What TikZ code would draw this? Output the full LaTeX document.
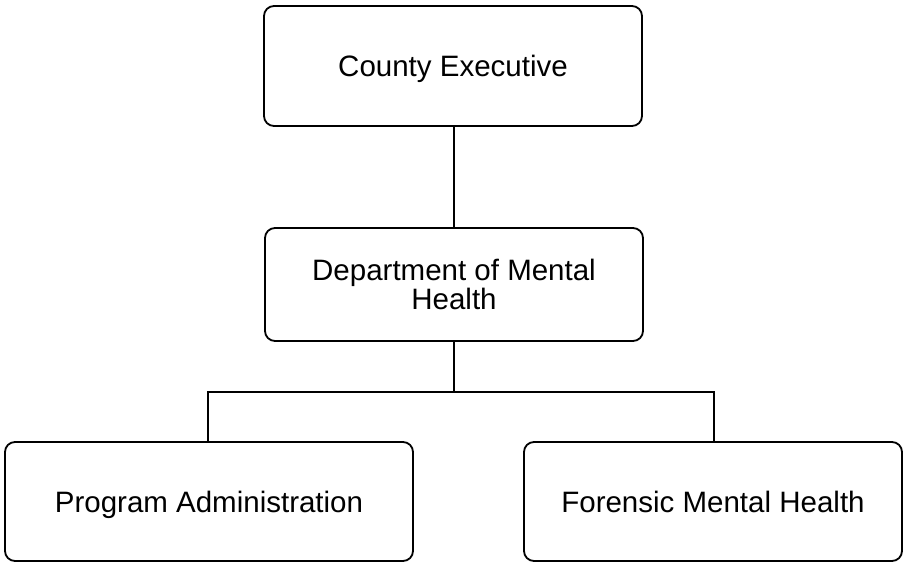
\documentclass[tikz,border=0pt]{standalone}
\usepackage{fontspec}
\setmainfont{Liberation Sans}
\begin{document}
\begin{tikzpicture}[x=1pt,y=-1pt,
  orgbox/.style={draw=black, line width=1.8pt, rounded corners=10pt,
    fill=white, inner sep=0pt, align=center,
    font=\fontsize{29.5}{29}\selectfont},
  oneline/.style={text height=21pt, text depth=0pt},
  link/.style={draw=black, line width=1.8pt}]
  % page frame
  \useasboundingbox (0,0) rectangle (904,565);
  % boxes
  \node[orgbox, oneline, minimum width=378pt, minimum height=120pt] (ce) at (453,66) {County Executive};
  \node[orgbox, minimum width=378pt, minimum height=113pt] (dmh) at (454,284.5) {Department of Mental\\Health};
  \node[orgbox, oneline, minimum width=408pt, minimum height=119pt] (pa) at (209,501.5) {Program Administration};
  \node[orgbox, oneline, minimum width=378pt, minimum height=119pt] (fmh) at (713,501.5) {Forensic Mental Health};
  % connectors
  \coordinate (bus) at (454,392);
  \draw[link] (dmh.north) -- (dmh.north |- ce.south);
  \draw[link] (dmh.south) -- (bus);
  \draw[link] (pa.north -| 208,0) -- (208,392) -- (714,392) -- (fmh.north -| 714,0);
\end{tikzpicture}
\end{document}
